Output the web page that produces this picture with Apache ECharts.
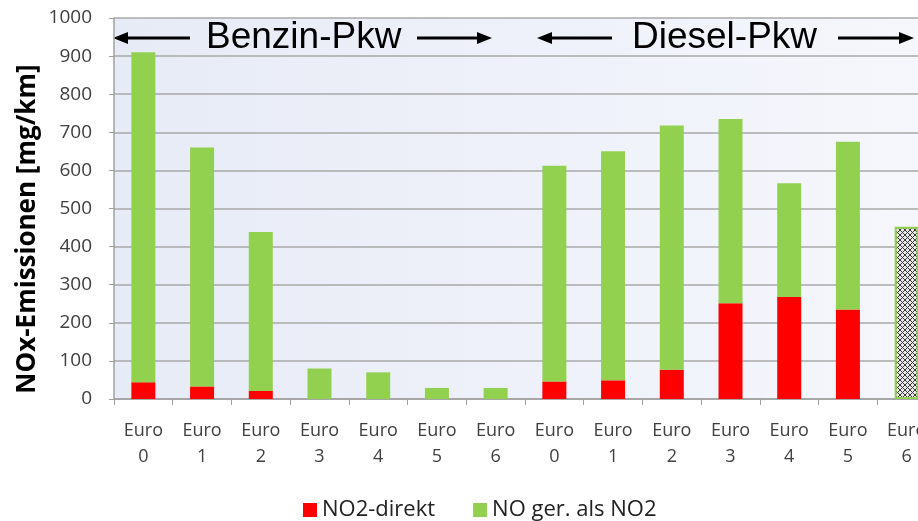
<!DOCTYPE html>
<html lang="de">
<head>
<meta charset="UTF-8">
<title>NOx-Emissionen</title>
<script src="https://cdn.jsdelivr.net/npm/echarts@6/dist/echarts.min.js"></script>
<style>
  body { margin: 0; background: #fff; }
  #main { width: 918px; height: 521px; }
</style>
</head>
<body>
<div id="main"></div>
<script>
// categories: Benzin Euro 0-6, Diesel Euro 0-6
var categories = ['Euro\n0', 'Euro\n1', 'Euro\n2', 'Euro\n3', 'Euro\n4', 'Euro\n5', 'Euro\n6',
                  'Euro\n0', 'Euro\n1', 'Euro\n2', 'Euro\n3', 'Euro\n4', 'Euro\n5', 'Euro\n6'];
var no2Direkt = [44, 33, 21, 0, 0, 0, 0, 46, 49, 77, 251, 268, 235, 0];
var noxTotal  = [910, 660, 438, 80, 70, 29, 29, 612, 650, 718, 735, 566, 675, 452];
var noAlsNo2 = noxTotal.map(function (t, i) { return t - no2Direkt[i]; });
var yTicks = { min: 0, max: 1000, interval: 100 };

// hatch pattern for the Diesel Euro 6 bar
var pat = document.createElement('canvas');
pat.width = 5; pat.height = 5;
var pc = pat.getContext('2d');
pc.fillStyle = '#e8e8e8';
pc.fillRect(0, 0, 5, 5);
pc.fillStyle = '#3a3a3a';
[[0,0],[4,0],[1,1],[3,1],[2,2],[1,3],[3,3],[0,4],[4,4]].forEach(function (p) {
  pc.fillRect(p[0], p[1], 1, 1);
});

var greenData = noAlsNo2.map(function (v, i) {
  if (i === noAlsNo2.length - 1) {
    return { value: v, itemStyle: { color: { image: pat, repeat: 'repeat' }, borderColor: '#92d050', borderWidth: 2 } };
  }
  return v;
});

var chart = echarts.init(document.getElementById('main'));

function arrow(x1, x2, y) {
  var dir = x2 > x1 ? 1 : -1;
  var head = 15;
  return [
    { type: 'line', shape: { x1: x1, y1: y, x2: x2 - dir * head, y2: y }, style: { stroke: '#000', lineWidth: 3 } },
    { type: 'polygon', shape: { points: [[x2, y], [x2 - dir * head, y - 6], [x2 - dir * head, y + 6]] }, style: { fill: '#000' } }
  ];
}

var headerY = 38;
var graphics = []
  .concat(arrow(190, 113, headerY))
  .concat(arrow(417, 492, headerY))
  .concat(arrow(612, 537, headerY))
  .concat(arrow(838, 914, headerY));
graphics.push({ type: 'text', x: 206, y: headerY, style: { text: 'Benzin-Pkw', font: '37px "Liberation Sans", Arial, sans-serif', fill: '#000', verticalAlign: 'middle' } });
graphics.push({ type: 'text', x: 632, y: headerY, style: { text: 'Diesel-Pkw', font: '37px "Liberation Sans", Arial, sans-serif', fill: '#000', verticalAlign: 'middle' } });
// y axis title, sits a bit below the plot centre like the original
graphics.push({
  type: 'text', x: 28, y: 229, rotation: Math.PI / 2,
  style: { text: 'NOx-Emissionen [mg/km]', font: 'bold 26px "Open Sans", sans-serif', fill: '#000', align: 'center', verticalAlign: 'middle' }
});

chart.setOption({
  animation: false,
  textStyle: { fontFamily: '"Open Sans", sans-serif' },
  grid: {
    left: 114, right: -18, top: 18, bottom: 122,
    outerBoundsMode: 'none',
    containLabel: false,
    show: true, borderWidth: 0,
    backgroundColor: {
      type: 'linear', x: 0, y: 0, x2: 1, y2: 0,
      colorStops: [{ offset: 0, color: '#e7ebf6' }, { offset: 1, color: '#f5f7fc' }]
    }
  },
  legend: {
    left: 298, top: 494,
    icon: 'rect', itemWidth: 14, itemHeight: 14, itemGap: 38,
    textStyle: { fontSize: 22, color: '#222', fontFamily: '"Open Sans", sans-serif' },
    data: ['NO2-direkt', 'NO ger. als NO2']
  },
  xAxis: {
    type: 'category',
    data: categories,
    axisLine: { lineStyle: { color: '#a0a0a0', width: 1.5 } },
    axisTick: { show: true, length: 6, lineStyle: { color: '#a0a0a0' } },
    axisLabel: { color: '#404040', fontSize: 18, lineHeight: 26, margin: 19, interval: 0 }
  },
  yAxis: {
    type: 'value',
    min: yTicks.min, max: yTicks.max, interval: yTicks.interval,
    axisLine: { show: true, lineStyle: { color: '#a0a0a0', width: 1.5 } },
    axisTick: { show: true, length: 5, lineStyle: { color: '#a0a0a0' } },
    axisLabel: { color: '#404040', fontSize: 19, margin: 22, formatter: function (v) { return String(v); } },
    splitLine: { lineStyle: { color: '#a8a8a8', width: 1.5 } }
  },
  series: [
    { name: 'NO2-direkt', type: 'bar', stack: 'nox', barWidth: 24, data: no2Direkt, itemStyle: { color: '#ff0000' } },
    { name: 'NO ger. als NO2', type: 'bar', stack: 'nox', barWidth: 24, data: greenData, itemStyle: { color: '#92d050' } }
  ],
  graphic: graphics
});
</script>
</body>
</html>
